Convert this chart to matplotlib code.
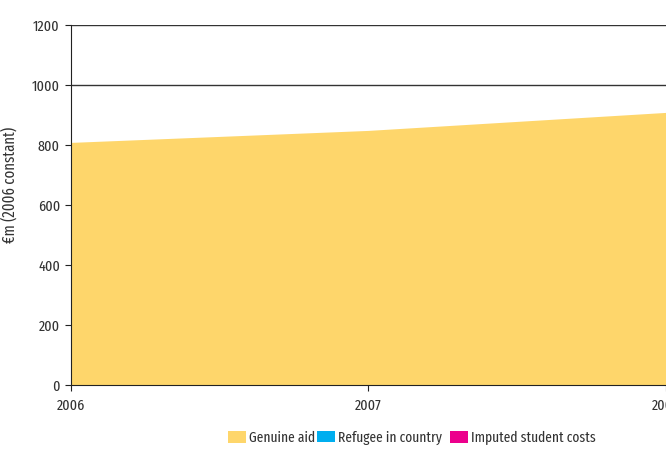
import matplotlib
matplotlib.use('Agg')
import matplotlib.pyplot as plt
from matplotlib.patches import Patch

plt.rcParams['font.family'] = ['Fira Sans Extra Condensed', 'DejaVu Sans']

years = [2006, 2007, 2008]
genuine_aid = [807, 847, 907]
refugee_in_country = [0, 0, 0]
imputed_student_costs = [0, 0, 0]

labels = ['Genuine aid', 'Refugee in country', 'Imputed student costs']
colors = ['#fed66b', '#00aeef', '#ec008c']
legend_x = [0.342, 0.476, 0.676]   # left edge of each legend entry (figure coords)

text_color = '#333333'

fig = plt.figure(figsize=(6.66, 4.5), dpi=100)
ax = fig.add_axes([0.1066, 0.1444, 0.8934, 0.8])

# gridlines only show above the area
for y in [1000, 1200]:
    ax.axhline(y, color='#333333', lw=1.0, zorder=1)

ax.stackplot(years, genuine_aid, refugee_in_country, imputed_student_costs,
             colors=colors, zorder=2, lw=0)

ax.set_xlim(2006, 2008)
ax.set_ylim(0, 1200)
ax.set_xticks(years)
ax.set_xticklabels([str(y) for y in years])
ax.set_yticks(range(0, 1201, 200))
ax.set_ylabel('€m (2006 constant)', fontsize=11.5, color=text_color)
ax.yaxis.set_label_coords(-0.089, 0.556)

for s in ['top', 'right']:
    ax.spines[s].set_visible(False)
ax.spines['left'].set_color('#222222')
ax.spines['bottom'].set_color('#222222')
ax.spines['bottom'].set_zorder(3)
ax.tick_params(axis='both', labelsize=11, colors='#222222', labelcolor=text_color,
               length=4, width=0.8)
ax.tick_params(axis='x', pad=6)
ax.tick_params(axis='y', pad=4)

for lab, c, x in zip(labels, colors, legend_x):
    leg = fig.legend([Patch(facecolor=c, edgecolor='none')], [lab], loc='center left',
                     bbox_to_anchor=(x, 0.027), frameon=False, fontsize=10.5,
                     handlelength=1.25, handleheight=0.8, handletextpad=0.2,
                     borderpad=0, borderaxespad=0)
    for t in leg.get_texts():
        t.set_color(text_color)

fig.savefig('out.png', dpi=100)
